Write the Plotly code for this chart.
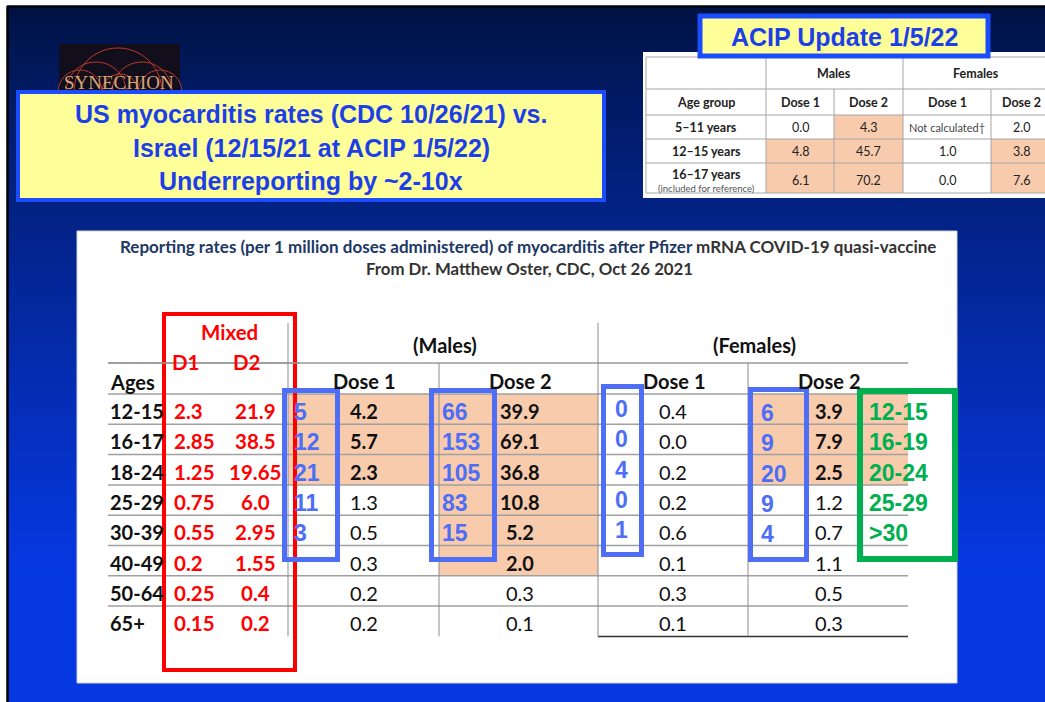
import plotly.graph_objects as go

# ---------------- data ----------------
ages = ["12-15", "16-17", "18-24", "25-29", "30-39", "40-49", "50-64", "65+"]
mixed_d1 = ["2.3", "2.85", "1.25", "0.75", "0.55", "0.2", "0.25", "0.15"]
mixed_d2 = ["21.9", "38.5", "19.65", "6.0", "2.95", "1.55", "0.4", "0.2"]
us_male_d1 = [4.2, 5.7, 2.3, 1.3, 0.5, 0.3, 0.2, 0.2]
us_male_d2 = [39.9, 69.1, 36.8, 10.8, 5.2, 2.0, 0.3, 0.1]
us_female_d1 = [0.4, 0.0, 0.2, 0.2, 0.6, 0.1, 0.3, 0.1]
us_female_d2 = [3.9, 7.9, 2.5, 1.2, 0.7, 1.1, 0.5, 0.3]

israel_ages = ["12-15", "16-19", "20-24", "25-29", ">30"]
israel_male_d1 = [5, 12, 21, 11, 3]
israel_male_d2 = [66, 153, 105, 83, 15]
israel_female_d1 = [0, 0, 4, 0, 1]
israel_female_d2 = [6, 9, 20, 9, 4]

acip_ages = ["5–11 years", "12–15 years", "16–17 years"]
acip_male_d1 = ["0.0", "4.8", "6.1"]
acip_male_d2 = ["4.3", "45.7", "70.2"]
acip_female_d1 = ["Not calculated†", "1.0", "0.0"]
acip_female_d2 = ["2.0", "3.8", "7.6"]

title_lines = ["US myocarditis rates (CDC 10/26/21) vs.",
               "Israel (12/15/21 at ACIP 1/5/22)",
               "Underreporting by ~2-10x"]

# ---------------- styling ----------------
W, H = 1045, 702
ORANGE = "#f8cbad"
BLUE_BOX = "#4d6ef5"
GREEN = "#00b050"
RED = "#ff0000"
YELLOW = "#ffff99"
SLIDE_BLUE = "#1b4dff"
TXT_BLUE = "#1d3fe8"
CAL = "Lato"
ARIAL = "Liberation Sans"

# highlight (orange) depth per column
hl_male_d1, hl_male_d2, hl_female_d2 = 3, 6, 3
hl_acip = {(0, 1), (1, 0), (1, 1), (1, 3), (2, 0), (2, 1), (2, 3)}

fig = go.Figure()
shapes = []
annos = []


def rect(x0, y0, x1, y1, fill=None, lc=None, lw=0):
    shapes.append(dict(type="rect", xref="x", yref="y", x0=x0, y0=y0, x1=x1, y1=y1,
                       fillcolor=fill if fill else "rgba(0,0,0,0)",
                       line=dict(color=lc if lc else "rgba(0,0,0,0)", width=lw)))


def line(x0, y0, x1, y1, c, w=1):
    shapes.append(dict(type="line", xref="x", yref="y", x0=x0, y0=y0, x1=x1, y1=y1,
                       line=dict(color=c, width=w)))


def text(x, y, t, size, color="#000", fam=CAL, xa="center", bold=False):
    annos.append(dict(x=x, y=y, xref="x", yref="y", text=f"<b>{t}</b>" if bold else t,
                      showarrow=False, xanchor=xa, yanchor="middle",
                      font=dict(family=fam, size=size, color=color)))


# ---------------- slide background ----------------
rect(0, 0, W, H, "#ffffff")
c0, c1 = (0, 18, 66), (6, 56, 226)
step = 5
for i in range(0, H, step):
    t = min(max((i - 7) / (570 - 7), 0), 1) ** 0.85
    col = tuple(int(round(a + (b - a) * t)) for a, b in zip(c0, c1))
    rect(7, max(i, 7), W, i + step + 0.5, "rgb(%d,%d,%d)" % col)
line(7, 6.5, W, 6.5, "#000", 2)
line(7.5, 6, 7.5, H, "#000", 2.5)
text(66, -3, "y", 24, "#000", ARIAL)
text(465, -3, "g", 24, "#000", ARIAL)

# logo
rect(59, 44, 180, 92, "#120e1c")
for cx, r in [(118, 44), (96, 30), (142, 30), (120, 18), (80, 22), (160, 22)]:
    k = 0.5523 * r
    cy = 92
    path = (f"M {cx - r},{cy} C {cx - r},{cy - k} {cx - k},{cy - r} {cx},{cy - r} "
            f"C {cx + k},{cy - r} {cx + r},{cy - k} {cx + r},{cy}")
    shapes.append(dict(type="path", xref="x", yref="y", path=path,
                       line=dict(color="#b83a2a", width=1)))
text(119, 82, "SYNECHION", 19, "#d9a676", "Liberation Serif")

# yellow title box
rect(18, 92, 604, 200, YELLOW, SLIDE_BLUE, 4)
for i, ln in enumerate(title_lines):
    text(311, 114 + 33.5 * i, ln, 25, TXT_BLUE, ARIAL, bold=True)

# ---------------- ACIP table ----------------
rect(643, 52, W, 198, "#ffffff")
acol = [646, 766, 834, 903, 991, 1060]
arow = [57, 89, 115, 139, 163, 193]
for (r, c) in hl_acip:
    rect(acol[c + 1], arow[r + 2], acol[c + 2], arow[r + 3], ORANGE)
GRID = "#a6a6a6"
for y in arow:
    line(646, y, W, y, GRID, 1)
for x in [646, 766, 903]:
    line(x, 57, x, 193, GRID, 1)
for x in [834, 991]:
    line(x, 89, x, 193, GRID, 1)
text(834, 73, "Males", 12.5, "#222", bold=True)
text(976, 73, "Females", 12.5, "#222", bold=True)
for x, lab in zip([706, 800, 868, 947, 1021], ["Age group", "Dose 1", "Dose 2", "Dose 1", "Dose 2"]):
    text(x, 102, lab, 12.5, "#222", bold=True)
arow_c = [127, 151, 180]
for i in range(3):
    yy = arow_c[i] if i < 2 else 174
    text(706, yy, acip_ages[i], 12.5, "#222", bold=True)
    text(800, arow_c[i], acip_male_d1[i], 12.5, "#222")
    text(868, arow_c[i], acip_male_d2[i], 12.5, "#222")
    text(947, arow_c[i], acip_female_d1[i], 11 if i == 0 else 12.5, "#444" if i == 0 else "#222")
    text(1021, arow_c[i], acip_female_d2[i], 12.5, "#222")
text(706, 188, "(included for reference)", 9.5, "#555")

rect(700, 16, 988, 56, YELLOW, SLIDE_BLUE, 5)
text(844, 37, "ACIP Update 1/5/22", 25, TXT_BLUE, ARIAL, bold=True)

# ---------------- main white panel ----------------
rect(77, 231, 957, 683, "#ffffff", "#d0d0d0", 1)
annos.append(dict(x=528, y=246, xref="x", yref="y", showarrow=False, xanchor="center", yanchor="middle",
                  text="<b><span style='color:#203864'>Reporting rates (per 1 million doses administered) of "
                       "myocarditis after Pfizer</span> mRNA COVID-19 quasi-vaccine</b>",
                  font=dict(family=CAL, size=17, color="#333333")))
text(529, 268, "From Dr. Matthew Oster, CDC, Oct 26 2021", 16.8, "#333333", bold=True)

ROW0, DY = 411, 30.3
LINE0 = 394
n = len(ages)
X_L, X_M, X_F, X_MD, X_FD, X_R = 108, 288, 598, 439, 748, 908
# orange highlights
rect(X_M, LINE0, X_MD, LINE0 + hl_male_d1 * DY, ORANGE)
rect(X_MD, LINE0, X_F, LINE0 + hl_male_d2 * DY, ORANGE)
rect(X_FD, LINE0, X_R, LINE0 + hl_female_d2 * DY, ORANGE)

# grid
line(X_L, 363, X_R, 363, "#9a9a9a", 1.5)
for k in range(n):
    line(X_L, LINE0 + k * DY, X_R, LINE0 + k * DY, "#a0a0a0", 1.5)
line(X_F, LINE0 + n * DY, X_R, LINE0 + n * DY, "#333333", 1.5)
for x, ytop in [(X_M, 323), (X_F, 323), (X_MD, 363), (X_FD, 363)]:
    line(x, ytop, x, LINE0 + n * DY, "#8c8c8c", 1)

# headers
text(445, 345, "(Males)", 20, "#111", bold=True)
text(754, 345, "(Females)", 20, "#111", bold=True)
text(364, 381, "Dose 1", 20, "#111", bold=True)
text(520, 381, "Dose 2", 20, "#111", bold=True)
text(674, 381, "Dose 1", 20, "#111", bold=True)
text(829, 381, "Dose 2", 20, "#111", bold=True)
text(X_L, 382, "Ages", 20, "#111", xa="left", bold=True)

# body
for i in range(n):
    y = ROW0 + i * DY
    text(X_L, y, ages[i], 20, "#111", xa="left", bold=True)
    text(172, y, mixed_d1[i], 20.5, RED, xa="left", bold=True)
    text(255, y, mixed_d2[i], 20.5, RED, bold=True)
    text(364, y, f"{us_male_d1[i]:.1f}", 20, "#111", bold=i < hl_male_d1)
    text(520, y, f"{us_male_d2[i]:.1f}", 20, "#111", bold=i < hl_male_d2)
    text(673, y, f"{us_female_d1[i]:.1f}", 20, "#111")
    text(829, y, f"{us_female_d2[i]:.1f}", 20, "#111", bold=i < hl_female_d2)

# red mixed box
rect(164, 314, 295, 670, None, RED, 4)
text(229, 332, "Mixed", 20.5, RED, bold=True)
text(185, 362, "D1", 20.5, RED, bold=True)
text(246, 362, "D2", 20.5, RED, bold=True)
line(X_L, 363, 300, 363, "#9a9a9a", 1.5)

# Israel boxes and numbers
rect(284.5, 390.5, 337.5, 559.5, None, BLUE_BOX, 5)
rect(431.5, 390.5, 494.5, 559.5, None, BLUE_BOX, 5)
rect(603.5, 386.5, 641.5, 554.5, None, BLUE_BOX, 5)
rect(750.5, 389.5, 806.5, 559.5, None, BLUE_BOX, 5)
rect(860, 391, 955, 559, None, GREEN, 6)
for i in range(len(israel_ages)):
    y = ROW0 + i * DY + 1
    text(292, y, str(israel_male_d1[i]), 23, BLUE_BOX, ARIAL, xa="left", bold=True)
    text(440, y, str(israel_male_d2[i]), 23, BLUE_BOX, ARIAL, xa="left", bold=True)
    text(621, y - 3, str(israel_female_d1[i]), 23, BLUE_BOX, ARIAL, bold=True)
    text(759, y + 1, str(israel_female_d2[i]), 23, BLUE_BOX, ARIAL, xa="left", bold=True)
    text(867, y, israel_ages[i], 23, GREEN, ARIAL, xa="left", bold=True)

fig.update_layout(
    width=W, height=H, margin=dict(l=0, r=0, t=0, b=0),
    paper_bgcolor="#ffffff", plot_bgcolor="#ffffff",
    xaxis=dict(range=[0, W], visible=False, fixedrange=True),
    yaxis=dict(range=[H, 0], visible=False, fixedrange=True),
    shapes=shapes, annotations=annos, showlegend=False,
)
fig.write_html("out.html", config={"displayModeBar": False},
               post_script="document.body.style.margin='0';")
